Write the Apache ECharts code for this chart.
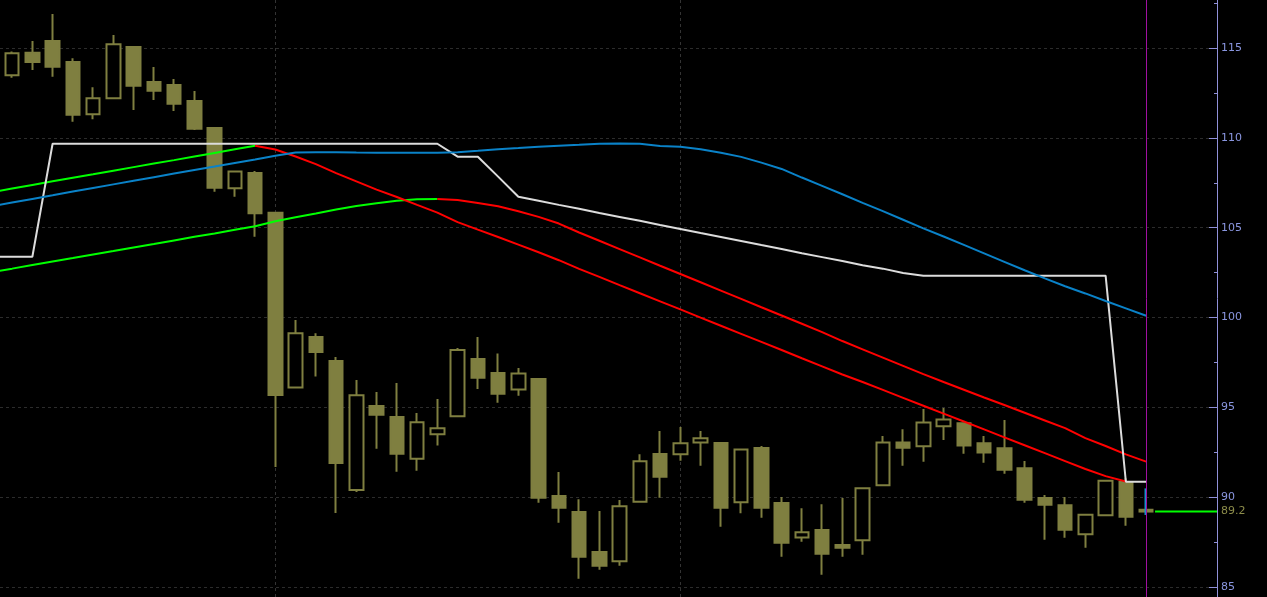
<!DOCTYPE html>
<html><head><meta charset="utf-8">
<script src="https://cdn.jsdelivr.net/npm/echarts@6/dist/echarts.min.js"></script>
<style>html,body{margin:0;padding:0;background:#000;overflow:hidden}#c{width:1267px;height:597px}</style>
</head><body><div id="c"></div>
<script>
// ---- data ----
const opens  = [113.48,114.74,115.39,114.22,111.31,112.20,115.06,113.11,112.94,112.05,110.55,107.19,108.04,105.83,96.11,98.92,97.58,90.40,95.07,94.46,92.14,93.50,94.50,97.69,96.91,96.00,96.58,90.07,89.17,86.95,86.43,89.75,92.40,92.39,93.05,93.01,89.72,92.74,89.67,87.76,88.17,87.34,87.60,90.66,93.05,92.83,93.95,94.11,93.00,92.72,91.61,89.95,89.55,87.93,88.99,90.84,89.30];
const closes = [114.71,114.22,113.96,111.29,112.20,115.21,112.90,112.62,111.90,110.51,107.22,108.12,105.80,95.69,99.12,98.08,91.90,95.67,94.59,92.42,94.17,93.83,98.19,96.65,95.76,96.89,89.97,89.41,86.69,86.19,89.49,92.00,91.14,93.00,93.28,89.41,92.66,89.41,87.46,88.05,86.85,87.19,90.49,93.05,92.75,94.15,94.33,92.87,92.48,91.53,89.86,89.58,88.19,89.02,90.92,88.91,89.20];
const lows   = [113.35,113.77,113.40,110.90,111.03,112.18,111.55,112.11,111.49,110.44,107.00,106.72,104.50,91.68,96.11,96.71,89.12,90.29,92.70,91.42,91.47,92.87,94.45,96.02,95.26,95.65,89.69,88.58,85.46,85.96,86.19,89.75,89.97,92.03,91.75,88.36,89.10,88.85,86.69,87.52,85.68,86.69,86.80,90.66,91.75,91.97,93.18,92.42,91.92,91.31,89.69,87.63,87.74,87.19,88.99,88.41,89.20];
const highs  = [114.80,115.39,116.89,114.43,112.81,115.72,115.06,113.94,113.27,112.61,110.55,108.12,108.15,105.83,99.86,99.12,97.80,96.52,95.85,96.35,94.69,95.46,98.30,98.92,97.99,97.19,96.58,91.40,89.88,89.23,89.84,92.39,93.68,93.91,93.68,93.01,92.66,92.85,90.01,89.38,89.60,89.95,90.55,93.40,93.78,94.91,94.96,94.11,93.40,94.30,92.01,90.12,90.01,89.02,90.96,91.05,89.30];

// indicator lines, first value sits one bar before the first candle
const lineStart = -1;
const whiteLine = [103.38,103.38,103.38,109.67,109.67,109.67,109.67,109.67,109.67,109.67,109.67,109.67,109.67,109.67,109.67,109.67,109.67,109.67,109.67,109.67,109.67,109.67,109.67,108.95,108.95,107.84,106.72,106.50,106.27,106.05,105.82,105.60,105.38,105.15,104.93,104.70,104.48,104.26,104.03,103.81,103.58,103.36,103.14,102.91,102.72,102.48,102.33,102.33,102.33,102.33,102.33,102.33,102.33,102.33,102.33,102.33,90.86,90.86];
const blueLine  = [106.20,106.40,106.60,106.80,107.01,107.21,107.41,107.61,107.81,108.01,108.21,108.40,108.60,108.79,109.00,109.18,109.20,109.20,109.18,109.17,109.17,109.17,109.17,109.20,109.28,109.37,109.43,109.50,109.56,109.61,109.67,109.68,109.67,109.55,109.50,109.37,109.17,108.94,108.62,108.27,107.79,107.33,106.86,106.38,105.92,105.44,104.96,104.51,104.04,103.57,103.10,102.63,102.18,101.74,101.34,100.92,100.51,100.10];
const fastMA    = [106.98,107.18,107.38,107.58,107.78,107.97,108.17,108.37,108.57,108.76,108.96,109.16,109.36,109.56,109.35,108.96,108.54,108.04,107.58,107.12,106.71,106.27,105.84,105.31,104.89,104.48,104.06,103.63,103.19,102.71,102.26,101.80,101.35,100.90,100.45,99.99,99.54,99.09,98.64,98.19,97.73,97.28,96.83,96.41,95.97,95.53,95.09,94.65,94.21,93.77,93.33,92.89,92.45,92.01,91.57,91.17,90.87];
const slowMA    = [102.53,102.72,102.92,103.12,103.31,103.51,103.70,103.90,104.09,104.29,104.49,104.68,104.88,105.08,105.36,105.58,105.79,106.01,106.21,106.36,106.50,106.58,106.60,106.54,106.37,106.19,105.91,105.60,105.23,104.73,104.27,103.81,103.35,102.88,102.42,101.96,101.50,101.04,100.57,100.11,99.65,99.19,98.69,98.23,97.77,97.31,96.85,96.41,95.98,95.55,95.13,94.70,94.27,93.84,93.29,92.85,92.38,91.98];
const fastTurnBar = 12;   // fast MA turns from rising (green) to falling (red)
const slowTurnBar = 21;   // slow MA turns from rising (green) to falling (red)

const cursorBar = 56;
const cursorSegment = [90.49, 89.01];
const lastPrice = 89.2;
const lastPriceFrom = 56.44;

const majorTicks = [85, 90, 95, 100, 105, 110, 115];
const minorTicks = [87.5, 92.5, 97.5, 102.5, 107.5, 112.5, 117.5];
const dateGridBars = [13, 33];

const xMin = -0.5975, xMax = 59.5;
const yMin = 84.444, yMax = 117.672;

// ---- build ----
const OLIVE = '#7f7f40';
const AXIS = '#9090d8';
const candles = opens.map((o, i) => [i, o, closes[i], lows[i], highs[i]]);
const toPairs = arr => arr.map((v, k) => [lineStart + k, v]);
const fastPairs = toPairs(fastMA), slowPairs = toPairs(slowMA);
const fastSplit = fastTurnBar - lineStart, slowSplit = slowTurnBar - lineStart;

function lineSeries(name, data, color, z) {
  return { name, type: 'line', data, symbol: 'none', z: z || 5, silent: true,
    lineStyle: { color, width: 2 }, clip: true };
}

const chart = echarts.init(document.getElementById('c'), null, { renderer: 'canvas' });
chart.setOption({
  backgroundColor: '#000',
  animation: false,
  grid: { left: 0, right: 50, top: 0, bottom: 0 },
  xAxis: { type: 'value', min: xMin, max: xMax, show: false, splitLine: { show: false } },
  yAxis: [
    { type: 'value', position: 'right', min: yMin, max: yMax, scale: true,
      axisLine: { show: true, onZero: false, lineStyle: { color: AXIS, width: 1 } },
      axisTick: { show: true, inside: true, length: 8, customValues: majorTicks, lineStyle: { color: AXIS, width: 1 } },
      axisLabel: { show: true, customValues: majorTicks, margin: 4, color: '#8a96e0', fontSize: 11, fontFamily: 'DejaVu Sans' },
      splitLine: { show: true, lineStyle: { color: '#2c2c2c', width: 1, type: [3, 3] } } },
    { type: 'value', position: 'right', min: yMin, max: yMax, scale: true,
      axisLine: { show: false, onZero: false },
      axisTick: { show: true, inside: true, length: 3, customValues: minorTicks, lineStyle: { color: AXIS, width: 1 } },
      axisLabel: { show: false }, splitLine: { show: false } },
    { type: 'value', position: 'right', min: yMin, max: yMax, scale: true,
      axisLine: { show: false, onZero: false }, axisTick: { show: false },
      axisLabel: { show: true, customValues: [lastPrice], margin: 4, color: '#8c8c4a', fontSize: 11, fontFamily: 'DejaVu Sans',
        formatter: v => v.toFixed(1) },
      splitLine: { show: false } }
  ],
  series: [
    { type: 'line', data: [], z: 1, silent: true,
      markLine: { z: 1, silent: true, symbol: 'none', label: { show: false },
        lineStyle: { color: '#333', type: [3, 3], width: 1 },
        data: dateGridBars.map(b => ({ xAxis: b })) } },
    { name: 'price', type: 'candlestick', data: candles, barWidth: 14, z: 3, silent: true,
      itemStyle: { color: '#000', color0: OLIVE, borderColor: OLIVE, borderColor0: OLIVE, borderWidth: 2 } },
    lineSeries('slowUp', slowPairs.slice(0, slowSplit + 1), '#00ff00', 5),
    lineSeries('slowDown', slowPairs.slice(slowSplit), '#ff0000', 5),
    lineSeries('fastUp', fastPairs.slice(0, fastSplit + 1), '#00ff00', 6),
    lineSeries('fastDown', fastPairs.slice(fastSplit), '#ff0000', 6),
    lineSeries('channel', toPairs(whiteLine), '#dcdcdc', 7),
    lineSeries('trend', toPairs(blueLine), '#0a82c8', 8),
    lineSeries('cursorSeg', cursorSegment.map(v => [cursorBar - 0.03, v]), '#1a8ed0', 8),
    Object.assign(lineSeries('last', [[lastPriceFrom, lastPrice], [xMax, lastPrice]], '#00ff00', 8), {
      markLine: { z: 10, silent: true, symbol: 'none', label: { show: false },
        lineStyle: { color: '#a010a0', type: 'solid', width: 1 },
        data: [{ xAxis: cursorBar }] } })
  ]
});
</script>
</body></html>
